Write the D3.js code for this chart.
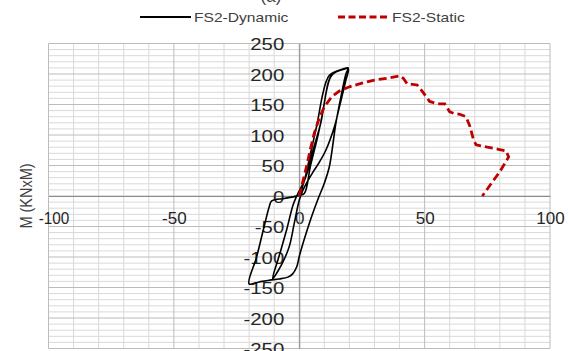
<!DOCTYPE html>
<html>
<head>
<meta charset="utf-8">
<script src="https://cdn.jsdelivr.net/npm/d3@7"></script>
<style>
  html, body { margin: 0; padding: 0; background: #fff; }
  svg { display: block; font-family: "Liberation Sans", Arial, sans-serif; }
</style>
</head>
<body>
<svg id="chart" width="568" height="351"></svg>
<script>
// Moment–rotation data for the FS2 specimen
const seriesNames = ["FS2-Dynamic", "FS2-Static"];

// Dynamic (cyclic) test: displacement/rotation and moment, in loading order
const dynDisp = [
  0, 2, 4.5, 7.2, 9, 10.5, 12, 14.5, 19.5,
  18.6, 16, 14, 10.6, 7.5, 5.3, 3, 1.5, 0,
  -2, -4, -7, -10.6,
  -8, -5, -2.5, -1,
  2.5, 5.5, 8.6, 10.3, 11.5, 13, 15.5, 19.5,
  18.6, 16.5, 14.6, 12, 10, 7.3, 4, 0, -1, -2.7, -4.5, -8, -12, -16, -20,
  -17, -14, -12, -11,
  -6, -2, 0, 2,
  4.5, 7.5, 9.5, 11, 12.5, 14.5, 19.5
];
const dynMoment = [
  0, 25, 70, 120, 160, 185, 198, 204, 209,
  190, 146, 113, 75, 52, 38, 22, 10, -7,
  -45, -83, -112, -135,
  -98, -55, -15, 0,
  30, 75, 120, 160, 185, 199, 205, 210,
  200, 160, 119, 48, 21, -7, -45, -99, -116, -128, -133, -136, -138, -141, -144,
  -100, -50, -18, -8,
  -4, -1, 1, 4,
  50, 100, 140, 175, 195, 203, 210
];

// Static (monotonic) test
const staticDisp = [
  0, 1.5, 3, 4.5, 6, 8, 10, 13, 16, 20, 25, 30, 35, 40, 41.5, 43, 47, 49,
  52, 55, 58, 60, 62, 64, 66.5, 68, 69.5, 70.5, 75, 79, 82.5, 83.5, 80, 76.5, 73
];
const staticMoment = [
  0, 25, 50, 78, 103, 128, 146, 163, 172, 179, 185, 190, 193, 197, 193, 184, 182, 172,
  155, 151, 151, 138, 135, 134, 130, 115, 92, 84, 80, 77, 74, 64, 40, 20, 0
];

// Axis ticks
const xTicks = [-100, -50, 0, 50, 100];
const yTicks = [-250, -200, -150, -100, -50, 0, 50, 100, 150, 200, 250];
const yTitle = "M (KNxM)";
const titleText = "(a)";

const svg = d3.select("#chart");
const x = d3.scaleLinear().domain([-100, 100]).range([48.5, 550]);
const y = d3.scaleLinear().domain([-250, 250]).range([348.5, 43.5]);

// Gridlines: minor every 10, major every 50
const grid = svg.append("g");
const minorX = d3.range(-100, 101, 10).filter(v => v % 50 !== 0);
const minorY = d3.range(-250, 251, 10).filter(v => v % 50 !== 0);
const majorX = d3.range(-100, 101, 50);
const majorY = d3.range(-250, 251, 50);

grid.selectAll(".mnx").data(minorX).join("line")
  .attr("x1", d => x(d)).attr("x2", d => x(d))
  .attr("y1", y(250)).attr("y2", y(-250))
  .attr("stroke", "#d9d9d9").attr("stroke-width", 1);
grid.selectAll(".mny").data(minorY).join("line")
  .attr("y1", d => y(d)).attr("y2", d => y(d))
  .attr("x1", x(-100)).attr("x2", x(100))
  .attr("stroke", "#d9d9d9").attr("stroke-width", 1);
grid.selectAll(".mjx").data(majorX).join("line")
  .attr("x1", d => x(d)).attr("x2", d => x(d))
  .attr("y1", y(250)).attr("y2", y(-250))
  .attr("stroke", "#bcbcbc").attr("stroke-width", 1);
grid.selectAll(".mjy").data(majorY).join("line")
  .attr("y1", d => y(d)).attr("y2", d => y(d))
  .attr("x1", x(-100)).attr("x2", x(100))
  .attr("stroke", "#bcbcbc").attr("stroke-width", 1);

// Axes crossing at the origin
const fmt = d => String(d);
const xAxis = svg.append("g")
  .attr("transform", `translate(0,${y(0)})`)
  .call(d3.axisBottom(x).tickValues(xTicks).tickSize(0).tickPadding(16).tickFormat(fmt));
const yAxis = svg.append("g")
  .attr("transform", `translate(${x(0)},0)`)
  .call(d3.axisLeft(y).tickValues(yTicks).tickSize(0).tickPadding(0).tickFormat(fmt));

[xAxis, yAxis].forEach(a => {
  a.select(".domain").attr("stroke", "#8c8c8c").attr("stroke-width", 1);
  a.selectAll("text")
    .attr("font-size", 17)
    .attr("fill", "#262626")
    .style("font-family", "'Liberation Sans', Arial, sans-serif");
});
xAxis.selectAll("text").attr("dy", "0.71em");
// the leftmost label is nudged right so it stays clear of the axis title
xAxis.selectAll(".tick").filter(d => d === xTicks[0]).select("text")
  .attr("transform", "translate(5,0) scale(0.9,1)");
// y labels: slightly widened, right edge a little left of the axis
yAxis.selectAll("text")
  .attr("x", 0)
  .attr("dy", "0.36em")
  .attr("transform", "translate(-15,0) scale(1.2,1)");

// Y axis title
svg.append("text")
  .attr("transform", `translate(32,${y(0)}) rotate(-90) scale(1,1.15)`)
  .attr("text-anchor", "middle")
  .attr("font-size", 14.5)
  .attr("fill", "#404040")
  .text(yTitle);

// Chart title, mostly above the visible area
svg.append("text")
  .attr("x", 271).attr("y", 2)
  .attr("text-anchor", "middle")
  .attr("font-size", 17)
  .attr("fill", "#404040")
  .text(titleText);

const line = d3.line().x(d => x(d[0])).y(d => y(d[1])).curve(d3.curveCatmullRom.alpha(0.5));

svg.append("path")
  .datum(dynDisp.map((d, i) => [d, dynMoment[i]]))
  .attr("d", line)
  .attr("fill", "none")
  .attr("stroke", "#000")
  .attr("stroke-width", 1.6)
  .attr("stroke-linejoin", "round");

svg.append("path")
  .datum(staticDisp.map((d, i) => [d, staticMoment[i]]))
  .attr("d", d3.line().x(d => x(d[0])).y(d => y(d[1])))
  .attr("fill", "none")
  .attr("stroke", "#c00000")
  .attr("stroke-width", 2.8)
  .attr("stroke-dasharray", "8,4");

// Legend
const legend = svg.append("g");
const legendItems = [
  { name: seriesNames[0], x: 140, color: "#000", dash: null, w: 1.8 },
  { name: seriesNames[1], x: 338, color: "#c00000", dash: "7,3.5", w: 2.8 }
];
legendItems.forEach(it => {
  legend.append("line")
    .attr("x1", it.x).attr("x2", it.x + 51)
    .attr("y1", 17).attr("y2", 17)
    .attr("stroke", it.color).attr("stroke-width", it.w)
    .attr("stroke-dasharray", it.dash);
  legend.append("text")
    .attr("transform", `translate(${it.x + 54},17) scale(1.2,1)`)
    .attr("dy", "0.36em")
    .attr("font-size", 13)
    .attr("fill", "#404040")
    .text(it.name);
});
</script>
</body>
</html>
